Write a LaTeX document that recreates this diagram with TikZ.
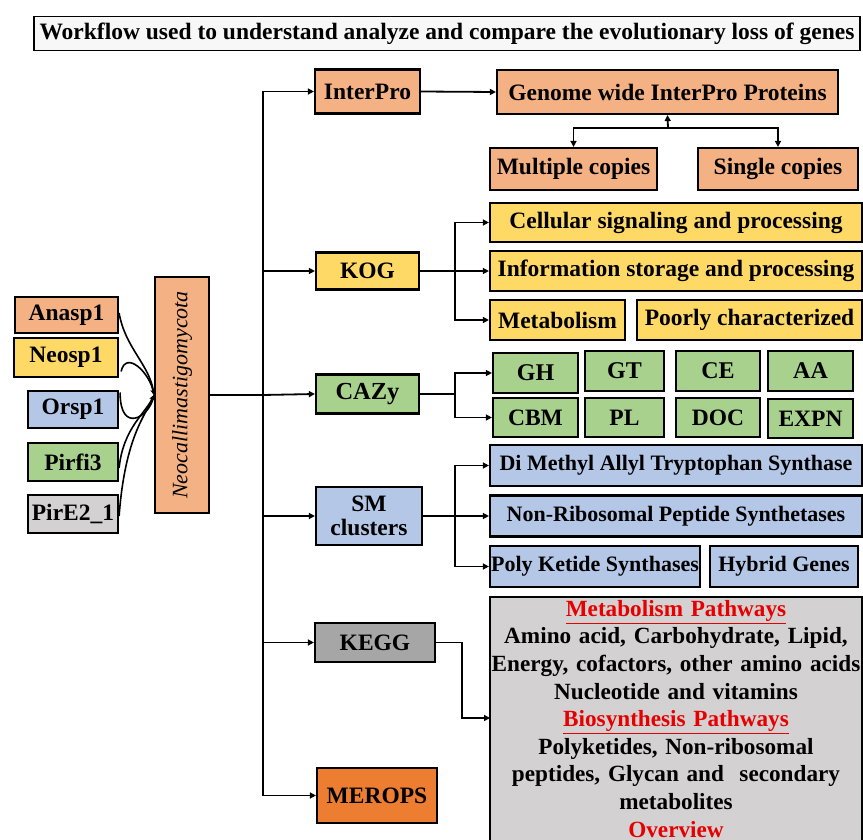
\documentclass[tikz,border=0pt]{standalone}
\usepackage{fontspec}
\setmainfont{Liberation Serif}
\usetikzlibrary{arrows.meta,calc}
\definecolor{csalmon}{HTML}{F4B183}
\definecolor{cyellow}{HTML}{FFD966}
\definecolor{cblue}{HTML}{B4C7E7}
\definecolor{cgreen}{HTML}{A9D18E}
\definecolor{clgray}{HTML}{D3D1D1}
\definecolor{cdgray}{HTML}{A6A6A6}
\definecolor{corange}{HTML}{ED7D31}
\definecolor{cred}{HTML}{E60000}
\tikzset{
  bx/.style={draw=black, line width=2.2pt, inner sep=0pt, align=center,
    font=\bfseries\fontsize{23.5}{24}\selectfont},
  bxs/.style={bx, font=\bfseries\fontsize{22}{24}\selectfont},
  arr/.style={line width=1.8pt, -{Triangle[length=6pt,width=6pt]}},
  ln/.style={line width=1.8pt},
  crv/.style={line width=1.6pt, -{Stealth[length=5pt,width=5pt]}},
}
\newcommand{\bxat}[7][]{% opts, name, cx, cy, w, h, fill ; text follows
  \node[bx, #1, fill=#7, minimum width=#5pt, minimum height=#6pt] (#2) at (#3,#4)}
\begin{document}
\begin{tikzpicture}[x=1pt,y=-1pt]
\useasboundingbox (0,0) rectangle (863,840);
\clip (0,0) rectangle (863,840);
% title
\node[draw=black, line width=1.5pt, fill=gray!6, minimum width=826pt, minimum height=34pt, inner sep=0pt,
  font=\bfseries\fontsize{23.5}{24}\selectfont] (title) at (447,33.5)
  {Workflow used to understand analyze and compare the evolutionary loss of genes};
% left species
\bxat{ana}{66.5}{315}{103}{36}{csalmon} {Anasp1};
\bxat{neo1}{66}{357.5}{104}{39}{cyellow} {Neosp1};
\bxat{ors}{73}{409.5}{90}{37}{cblue} {Orsp1};
\bxat{pir}{73}{462}{90}{38}{cgreen} {Pirfi3};
\bxat{pire}{73}{514}{90}{38}{clgray} {PirE2\_1};
\node[bx, fill=csalmon, minimum width=54pt, minimum height=236pt] (neo) at (182,395) {};
\node[rotate=90, font=\itshape\fontsize{22}{24}\selectfont] (neotext) at (neo.center) {Neocallimastigomycota};
% curves
\draw[crv] ($(ana.east)+(0,-2)$) .. controls +(6,35) and +(-4,-30) .. (neo.west);
\draw[crv] ($(neo1.east)+(2,14)$) .. controls +(5,-22) and +(-4,-22) .. (neo.west);
\draw[crv] ($(ors.east)+(1,-17)$) .. controls +(0,42) and +(-5,22) .. (neo.west);
\draw[crv] ($(pir.east)+(0,6)$) .. controls +(4,-40) and +(-8,18) .. (neo.west);
\draw[crv] ($(pire.east)+(0,2)$) .. controls +(6,-80) and +(-8,20) .. (neo.west);
% level 1
\bxat{interpro}{367.5}{91.5}{105}{44}{csalmon} {InterPro};
\bxat{kog}{367.5}{271}{103}{37}{cyellow} {KOG};
\bxat[font=\bfseries\fontsize{24.5}{25}\selectfont]{cazy}{367.5}{394}{103}{39}{cgreen} {CAZy};
\bxat{sm}{369}{516}{106}{58}{cblue} {SM\\clusters};
\bxat{kegg}{375}{642.5}{120}{39}{cdgray} {KEGG};
\bxat{merops}{377}{795.5}{120}{55}{corange} {MEROPS};
% trunk
\coordinate (tr) at (263,395);
\draw[ln] (neo.east) -- (tr);
\draw[arr] (tr) |- (interpro.west);
\draw[arr] (tr) |- (kog.west);
\draw[arr] (tr) -- (cazy.west);
\draw[arr] (tr) |- (sm.west);
\draw[arr] (tr) |- (kegg.west);
\draw[arr] (tr) |- (merops.west);
% InterPro branch
\bxat{genome}{667.5}{92}{341}{44}{csalmon} {Genome wide InterPro Proteins};
\bxat{multi}{573.5}{169}{167}{42}{csalmon} {Multiple copies};
\bxat{single}{778}{169}{160}{42}{csalmon} {Single copies};
\draw[arr] (interpro.east) -- (genome.west);
\coordinate (gj) at (668,128);
\draw[arr] (gj) -- (genome.south);
\draw[arr] (gj) -| (multi.north);
\draw[arr] (gj) -| (single.north);
% KOG branch
\bxat{cell}{676}{222.5}{372}{39}{cyellow} {Cellular signaling and processing};
\bxat{info}{676}{271}{372}{40}{cyellow} {Information storage and processing};
\bxat{metab}{557.5}{320}{135}{40}{cyellow} {Metabolism};
\bxat{poor}{749.5}{320}{225}{40}{cyellow} {Poorly characterized};
\coordinate (kf) at (455,271);
\draw[ln] (kog.east) -- (kf);
\draw[arr] (kf) |- (cell.west);
\draw[arr] (kf) -- (info.west);
\draw[arr] (kf) |- (metab.west);
% CAZy branch
\bxat[font=\bfseries\fontsize{24}{25}\selectfont]{gh}{535.5}{373}{85}{40}{cgreen} {GH};
\bxat[font=\bfseries\fontsize{24}{25}\selectfont]{gt}{624.5}{371}{79}{40}{cgreen} {GT};
\bxat[font=\bfseries\fontsize{24}{25}\selectfont]{ce}{718}{371}{84}{40}{cgreen} {CE};
\bxat[font=\bfseries\fontsize{24}{25}\selectfont]{aa}{810.5}{371}{85}{40}{cgreen} {AA};
\bxat{cbm}{535.5}{417.5}{85}{39}{cgreen} {CBM};
\bxat{pl}{624.5}{417.5}{79}{39}{cgreen} {PL};
\bxat{doc}{718}{417.5}{84}{39}{cgreen} {DOC};
\bxat{expn}{810.5}{418.5}{85}{39}{cgreen} {EXPN};
\coordinate (cf) at (455,394);
\draw[ln] (cazy.east) -- (cf);
\draw[arr] (cf) |- (gh.west);
\draw[arr] (cf) |- (cbm.west);
% SM branch
\bxat[bxs]{dmat}{676}{465.5}{372}{41}{cblue} {Di Methyl Allyl Tryptophan Synthase};
\bxat[bxs]{nrps}{676}{516}{372}{41}{cblue} {Non-Ribosomal Peptide Synthetases};
\bxat[bxs]{pks}{595}{566.5}{210}{41}{cblue} {Poly Ketide Synthases};
\bxat[bxs]{hyb}{784}{566.5}{148}{41}{cblue} {Hybrid Genes};
\coordinate (sf) at (455,516);
\draw[ln] (sm.east) -- (sf);
\draw[arr] (sf) |- (dmat.west);
\draw[arr] (sf) -- (nrps.west);
\draw[arr] (sf) |- (pks.west);
% KEGG branch
\node[draw=black, line width=2.2pt, fill=clgray, minimum width=372pt, minimum height=263pt, inner sep=0pt] (big) at (676,728.5) {};
\node[anchor=north, align=center, text width=372pt, inner sep=0pt,
  font=\bfseries\fontsize{23.2}{27.6}\selectfont] (bigtext) at (676,600)
  {\textcolor{cred}{\underline{Metabolism Pathways}}\\
   Amino acid, Carbohydrate, Lipid,\\
   Energy, cofactors, other amino acids\\
   Nucleotide and vitamins\\
   \textcolor{cred}{\underline{Biosynthesis Pathways}}\\
   Polyketides, Non-ribosomal\\
   peptides, Glycan and\ \ secondary\\
   metabolites\\
   \textcolor{cred}{Overview}};
\coordinate (kb) at (462,718);
\coordinate (bigin) at (490,718);
\draw[arr] (kegg.east) -| (kb) -- (bigin);
\end{tikzpicture}
\end{document}
